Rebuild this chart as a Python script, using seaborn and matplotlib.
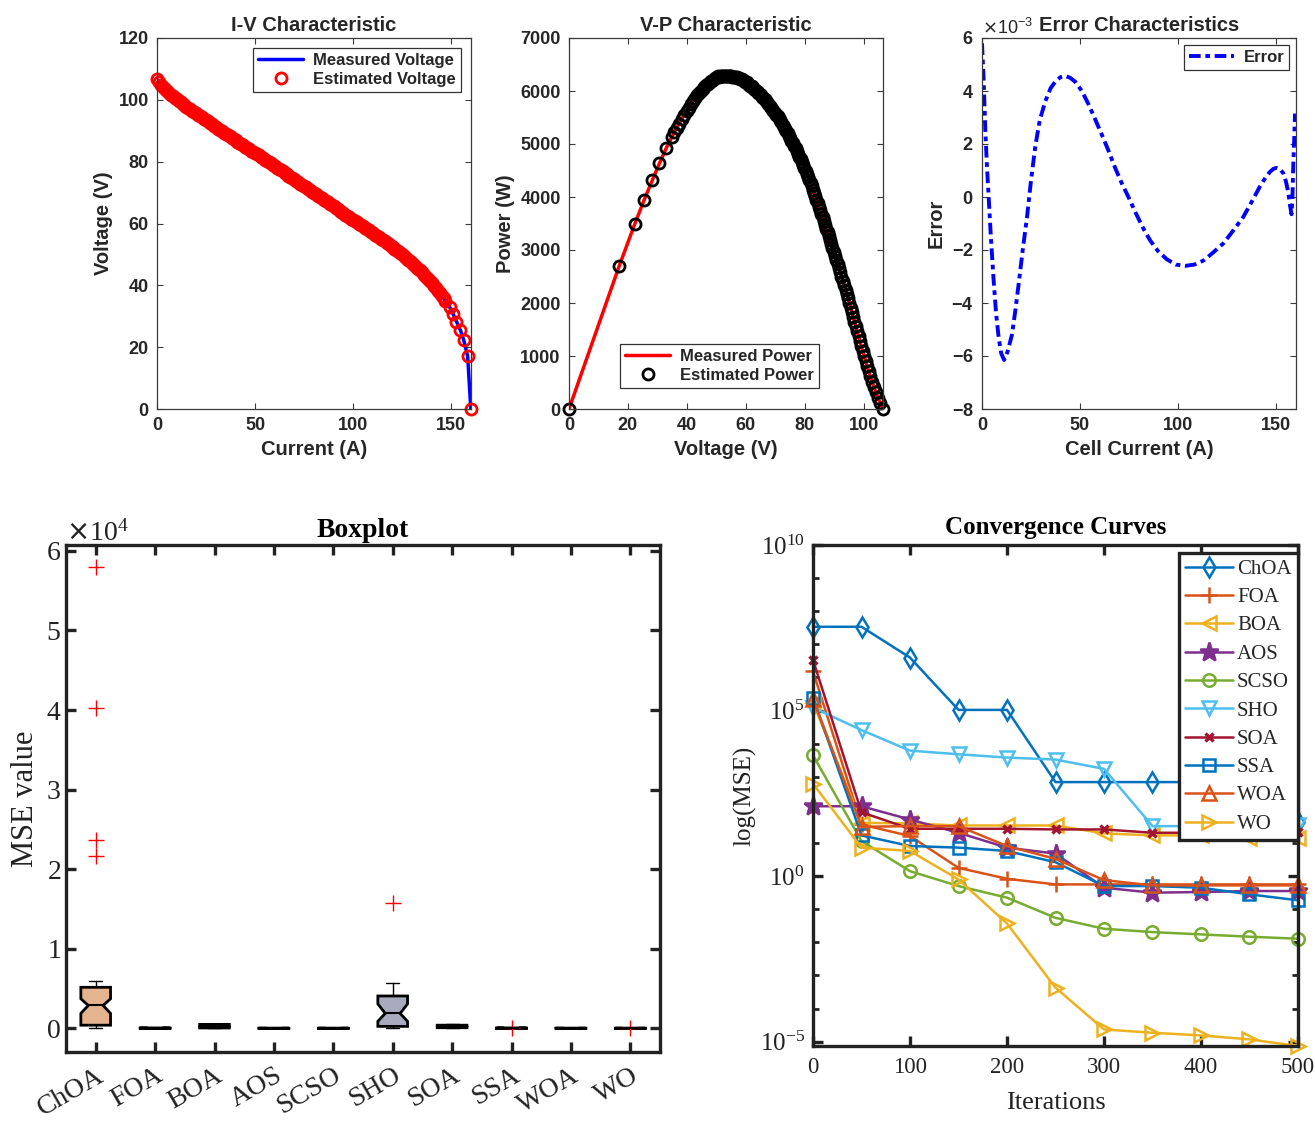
import numpy as np
import pandas as pd
import matplotlib
matplotlib.use("Agg")
import matplotlib.pyplot as plt
import seaborn as sns
from matplotlib.ticker import ScalarFormatter, FixedLocator, NullFormatter, LogFormatterSciNotation

# ---------------- data ----------------
current = [0, 1, 2, 3, 4, 5, 6, 7, 8, 9, 10, 11, 12, 13, 14, 15, 16, 17, 18, 19,
           20, 21, 22, 23, 24, 25, 26, 27, 28, 29, 30, 31, 32, 33, 34, 35, 36, 37, 38, 39,
           40, 41, 42, 43, 44, 45, 46, 47, 48, 49, 50, 51, 52, 53, 54, 55, 56, 57, 58, 59,
           60, 61, 62, 63, 64, 65, 66, 67, 68, 69, 70, 71, 72, 73, 74, 75, 76, 77, 78, 79,
           80, 81, 82, 83, 84, 85, 86, 87, 88, 89, 90, 91, 92, 93, 94, 95, 96, 97, 98, 99,
           100, 101, 102, 103, 104, 105, 106, 107, 108, 109, 110, 111, 112, 113, 114, 115, 116, 117, 118, 119,
           120, 121, 122, 123, 124, 125, 126, 127, 128, 129, 130, 131, 132, 133, 134, 135, 136, 137, 138, 139,
           140, 141, 142, 143, 144, 145, 146, 147,
           149.1, 150.9, 152.6, 154.6, 156.3, 158.3, 159.9]
voltage = [106.6, 105.7, 104.9, 104.2, 103.5, 102.9, 102.3, 101.7, 101.2, 100.7,
           100.2, 99.7, 99.2, 98.7, 98.3, 97.8, 97.4, 96.9, 96.5, 96.0,
           95.6, 95.2, 94.8, 94.3, 93.9, 93.4, 93.0, 92.5, 92.1, 91.6,
           91.2, 90.7, 90.3, 89.8, 89.4, 89.0, 88.6, 88.2, 87.8, 87.3,
           86.9, 86.5, 86.1, 85.7, 85.3, 84.8, 84.4, 84.0, 83.6, 83.2,
           82.8, 82.4, 82.0, 81.6, 81.2, 80.7, 80.3, 79.9, 79.5, 79.0,
           78.6, 78.1, 77.7, 77.3, 76.9, 76.4, 76.0, 75.5, 75.1, 74.7,
           74.3, 73.8, 73.4, 72.9, 72.5, 72.1, 71.7, 71.2, 70.8, 70.3,
           69.9, 69.4, 69.0, 68.5, 68.1, 67.7, 67.3, 66.8, 66.4, 65.9,
           65.5, 65.1, 64.7, 64.2, 63.8, 63.3, 62.9, 62.5, 62.1, 61.6,
           61.2, 60.8, 60.4, 59.9, 59.5, 59.1, 58.7, 58.2, 57.8, 57.3,
           56.9, 56.4, 56.0, 55.5, 55.1, 54.6, 54.2, 53.7, 53.3, 52.8,
           52.4, 51.9, 51.5, 51.0, 50.6, 50.1, 49.5, 48.9, 48.3, 47.8,
           47.2, 46.6, 46.0, 45.4, 44.8, 44.2, 43.5, 42.8, 42.1, 41.4,
           40.6, 39.9, 39.1, 38.3, 37.4, 36.6, 35.8, 34.9,
           33.0, 30.7, 28.3, 25.5, 22.3, 17.1, 0.0]
power = [i * v for i, v in zip(current, voltage)]

err_current = [0, 0.8, 1.7, 2.5, 3.4, 4.6, 5.9, 7.2, 8.5, 9.8, 11.3, 13.0, 15.3, 17.0, 18.7, 20.8,
               23.0, 25.0, 27.2, 29.5, 32.3, 35.0, 37.4, 40.0, 42.5, 45.0, 47.6, 51.0, 54.4, 58.0,
               61.5, 64.6, 68.0, 71.5, 74.8, 78.5, 82.5, 86.0, 90.0, 94.4, 99.0, 103.7, 108.5, 113.1,
               118.0, 123.3, 128.0, 133.5, 138.0, 142.0, 145.0, 147.1, 149.0, 150.5, 152.2, 153.9,
               155.2, 156.4, 157.3, 158.1, 158.6, 159.0, 159.5, 159.9]
err_milli = [5.8, 4.5, 2.5, 1.2, 0.0, -1.6, -3.1, -4.4, -5.3, -5.9, -6.15, -5.85, -5.2, -4.3, -3.3, -2.0,
             -0.75, 0.6, 1.9, 2.9, 3.6, 4.1, 4.35, 4.52, 4.57, 4.5, 4.35, 4.0, 3.5, 2.9,
             2.3, 1.75, 1.1, 0.5, 0.0, -0.6, -1.2, -1.65, -2.05, -2.35, -2.55, -2.6, -2.55, -2.4,
             -2.1, -1.75, -1.3, -0.75, -0.15, 0.4, 0.75, 0.95, 1.07, 1.1, 1.05, 0.9,
             0.6, 0.2, -0.3, -0.65, 0.0, 1.2, 2.2, 3.15]

algorithms = ["ChOA", "FOA", "BOA", "AOS", "SCSO", "SHO", "SOA", "SSA", "WOA", "WO"]
box_whislo = [0, 0, 0, 0, 0, 0, 0, 0, 0, 0]
box_q1 = [400, 10, 50, 5, 5, 250, 80, 10, 5, 5]
box_med = [2880, 20, 250, 10, 10, 1880, 200, 20, 10, 10]
box_q3 = [5160, 40, 500, 20, 20, 4070, 400, 40, 20, 20]
box_whishi = [5950, 60, 600, 30, 30, 5700, 550, 60, 30, 30]
box_cilo = [1880, 15, 150, 8, 8, 890, 140, 15, 8, 8]
box_cihi = [3720, 30, 350, 15, 15, 3070, 300, 30, 15, 15]
box_fliers = [[21600, 23700, 40200, 58000], [], [], [], [], [15800], [], [50], [], [0]]
box_colors = ["#E3B48D", "#9a9a9a", "#8a8a8a", "#9a9a9a", "#9a9a9a", "#A8AABD", "#8a8a8a", "#9a9a9a", "#9a9a9a", "#9a9a9a"]

iterations = [0, 50, 100, 150, 200, 250, 300, 350, 400, 450, 500]
log_choa = [7.53, 7.53, 6.60, 5.02, 5.02, 2.84, 2.84, 2.84, 2.84, 2.84, 1.62]
log_foa = [6.19, 1.56, 1.21, 0.25, -0.08, -0.25, -0.25, -0.25, -0.25, -0.25, -0.25]
log_boa = [5.24, 1.61, 1.59, 1.53, 1.53, 1.53, 1.29, 1.23, 1.23, 1.16, 1.16]
log_aos = [2.11, 2.11, 1.71, 1.31, 0.86, 0.68, -0.35, -0.50, -0.48, -0.45, -0.45]
log_scso = [3.65, 1.06, 0.15, -0.30, -0.65, -1.26, -1.59, -1.69, -1.76, -1.83, -1.89]
log_sho = [5.09, 4.41, 3.79, 3.68, 3.58, 3.52, 3.24, 1.51, 1.51, 1.51, 1.53]
log_soa = [6.53, 1.93, 1.43, 1.43, 1.43, 1.41, 1.41, 1.31, 1.31, 1.31, 1.33]
log_ssa = [5.39, 1.23, 0.91, 0.86, 0.76, 0.42, -0.30, -0.30, -0.35, -0.55, -0.73]
log_woa = [5.36, 1.49, 1.51, 1.51, 0.91, 0.52, -0.12, -0.28, -0.28, -0.28, -0.28]
log_wo = [2.79, 0.86, 0.76, -0.10, -1.43, -3.37, -4.63, -4.73, -4.81, -4.93, -5.13]

# ---------------- style ----------------
sns.set_theme(style="ticks")
plt.rcParams.update({
    "font.family": ["Liberation Sans", "DejaVu Sans"],
    "axes.unicode_minus": False,
    "axes.facecolor": "white",
    "figure.facecolor": "white",
})
SERIF = ["Liberation Serif", "DejaVu Serif"]
SANS = ["Liberation Sans", "DejaVu Sans"]
TXT = "#262626"

W, H = 1315, 1124
fig = plt.figure(figsize=(W / 100, H / 100), dpi=100)

def rect(l, t, r, b):
    return [l / W, 1 - b / H, (r - l) / W, (b - t) / H]

ax1 = fig.add_axes(rect(157, 38, 471, 409))
ax2 = fig.add_axes(rect(569, 38, 883, 409))
ax3 = fig.add_axes(rect(982, 38, 1296, 409))
ax4 = fig.add_axes(rect(66, 545, 660, 1052))
ax5 = fig.add_axes(rect(813, 545, 1298, 1046))


def style_top(ax):
    for s in ax.spines.values():
        s.set_linewidth(0.9)
        s.set_color("#3a3a3a")
        s.set_visible(True)
    ax.tick_params(which="both", direction="in", length=4, width=0.8, colors="#3a3a3a",
                   labelcolor=TXT, labelsize=13, top=True, right=True, pad=6)
    for l in ax.get_xticklabels() + ax.get_yticklabels():
        l.set_fontweight("bold")
        l.set_fontfamily(SANS)


def top_legend(ax, **kw):
    leg = ax.legend(prop={"family": SANS, "weight": "bold", "size": 12}, fancybox=False,
                    framealpha=1, edgecolor="#333333", handlelength=2.7, handletextpad=0.6,
                    borderpad=0.3, labelspacing=0.25, **kw)
    leg.get_frame().set_linewidth(0.9)
    for t in leg.get_texts():
        t.set_color(TXT)
    return leg

# ---- I-V ----
sns.lineplot(x=current, y=voltage, ax=ax1, color="blue", lw=2.5, sort=False, estimator=None,
             label="Measured Voltage")
sns.lineplot(x=current, y=voltage, ax=ax1, color="red", linestyle="none", marker="o", ms=8,
             mfc="none", mec="red", mew=2.0, sort=False, estimator=None, label="Estimated Voltage",
             clip_on=False)
ax1.set_xlim(0, 160)
ax1.set_ylim(0, 120)
ax1.set_xticks([0, 50, 100, 150])
ax1.set_yticks([0, 20, 40, 60, 80, 100, 120])
ax1.set_title("I-V Characteristic", fontweight="bold", fontsize=14.5, color=TXT, pad=5)
ax1.set_xlabel("Current (A)", fontweight="bold", fontsize=14.5, color=TXT, labelpad=4)
ax1.set_ylabel("Voltage (V)", fontweight="bold", fontsize=14.5, color=TXT, labelpad=4)
style_top(ax1)
top_legend(ax1, loc="upper right", borderaxespad=0.6)

# ---- V-P ----
sns.lineplot(x=voltage, y=power, ax=ax2, color="red", lw=2.5, sort=False, estimator=None,
             label="Measured Power")
sns.lineplot(x=voltage, y=power, ax=ax2, color="black", linestyle="none", marker="o", ms=8,
             mfc="none", mec="black", mew=2.0, sort=False, estimator=None, label="Estimated Power",
             clip_on=False)
ax2.set_xlim(0, 106.6)
ax2.set_ylim(0, 7000)
ax2.set_xticks([0, 20, 40, 60, 80, 100])
ax2.set_yticks([0, 1000, 2000, 3000, 4000, 5000, 6000, 7000])
ax2.set_title("V-P Characteristic", fontweight="bold", fontsize=14.5, color=TXT, pad=5)
ax2.set_xlabel("Voltage (V)", fontweight="bold", fontsize=14.5, color=TXT, labelpad=4)
ax2.set_ylabel("Power (W)", fontweight="bold", fontsize=14.5, color=TXT, labelpad=4)
style_top(ax2)
top_legend(ax2, loc="lower center", bbox_to_anchor=(0.48, 0.057), borderaxespad=0)

# ---- Error ----
err_vals = [e * 1e-3 for e in err_milli]
sns.lineplot(x=err_current, y=err_vals, ax=ax3, color="blue", lw=2.8,
             dashes=False, linestyle=(0, (3.0, 1.2, 1.2, 1.2)),
             sort=False, estimator=None, label="Error")
ax3.set_xlim(0, 160.4)
ax3.set_ylim(-8e-3, 6e-3)
ax3.set_xticks([0, 50, 100, 150])
ax3.set_yticks([-8e-3, -6e-3, -4e-3, -2e-3, 0, 2e-3, 4e-3, 6e-3])
fmt3 = ScalarFormatter(useMathText=True)
fmt3.set_powerlimits((0, 0))
ax3.yaxis.set_major_formatter(fmt3)
ax3.set_title("Error Characteristics", fontweight="bold", fontsize=14.5, color=TXT, pad=5)
ax3.set_xlabel("Cell Current (A)", fontweight="bold", fontsize=14.5, color=TXT, labelpad=4)
ax3.set_ylabel("Error", fontweight="bold", fontsize=14.5, color=TXT, labelpad=4)
style_top(ax3)
ot = ax3.yaxis.get_offset_text()
ot.set_fontsize(13)
ot.set_fontfamily(SANS)
ot.set_color(TXT)
top_legend(ax3, loc="upper right", borderaxespad=0.4)

# ---- Boxplot ----
stats = []
for i, name in enumerate(algorithms):
    stats.append(dict(label=name, whislo=box_whislo[i], q1=box_q1[i], med=box_med[i], q3=box_q3[i],
                      whishi=box_whishi[i], cilo=box_cilo[i], cihi=box_cihi[i], fliers=box_fliers[i]))
bp = ax4.bxp(stats, positions=list(range(1, 11)), widths=0.5, shownotches=True, patch_artist=True,
             capwidths=0.22,
             boxprops=dict(linewidth=2.0, edgecolor="black"),
             whiskerprops=dict(linewidth=1.0, color="black"),
             capprops=dict(linewidth=1.0, color="black"),
             medianprops=dict(linewidth=1.5, color="black"),
             flierprops=dict(marker="+", markeredgecolor="red", markersize=11, markeredgewidth=1.0,
                             linestyle="none"))
for patch, c in zip(bp["boxes"], box_colors):
    patch.set_facecolor(c)
ax4.set_xlim(0.5, 10.5)
ax4.set_ylim(-2970, 60740)
ax4.set_xticks(list(range(1, 11)))
ax4.set_xticklabels(algorithms, rotation=30, ha="right", rotation_mode="anchor")
ax4.set_yticks([0, 10000, 20000, 30000, 40000, 50000, 60000])
fmt4 = ScalarFormatter(useMathText=True)
fmt4.set_powerlimits((0, 0))
ax4.yaxis.set_major_formatter(fmt4)


def style_bottom(ax, size):
    for s in ax.spines.values():
        s.set_linewidth(2.4)
        s.set_color("#222222")
        s.set_visible(True)
    ax.tick_params(which="major", direction="in", length=7, width=2.4, colors="#222222",
                   labelcolor="#222222", labelsize=size, top=True, right=True,
                   labelfontfamily="Liberation Serif")
    ax.tick_params(which="minor", direction="in", length=4, width=2.0, colors="#222222",
                   top=True, right=True)

style_bottom(ax4, 20)
ax4.tick_params(axis="x", pad=8)
ot4 = ax4.yaxis.get_offset_text()
ot4.set_fontsize(20)
ot4.set_fontfamily(SERIF)
ax4.set_title("Boxplot", fontfamily=SERIF, fontweight="bold", fontsize=20, color="black", pad=6)
ax4.set_ylabel("MSE value", fontfamily=SERIF, fontsize=22, color="#222222", labelpad=4)

# ---- Convergence ----
ax5.set_yscale("log")
series = [
    ("ChOA", log_choa, "#0072BD", "d", 10, "none"),
    ("FOA", log_foa, "#D95319", "+", 11, "none"),
    ("BOA", log_boa, "#EDB120", "<", 10, "none"),
    ("AOS", log_aos, "#7E2F8E", "*", 14, "#7E2F8E"),
    ("SCSO", log_scso, "#77AC30", "o", 9, "none"),
    ("SHO", log_sho, "#4DBEEE", "v", 10, "none"),
    ("SOA", log_soa, "#A2142F", "x", 6, "none"),
    ("SSA", log_ssa, "#0072BD", "s", 8, "none"),
    ("WOA", log_woa, "#D95319", "^", 10, "none"),
    ("WO", log_wo, "#EDB120", ">", 10, "none"),
]
for name, logs, col, mk, ms, mfc in series:
    yv = [10.0 ** v for v in logs]
    sns.lineplot(x=iterations, y=yv, ax=ax5, color=col, lw=1.8, marker=mk, ms=ms, mfc=mfc,
                 mec=col, mew=1.8 if mk != "x" else 2.4, sort=False, estimator=None, label=name,
                 clip_on=False)
ax5.set_xlim(0, 500)
ax5.set_ylim(10 ** -5.13, 1e10)
ax5.set_xticks([0, 100, 200, 300, 400, 500])
ax5.yaxis.set_major_locator(FixedLocator([1e-5, 1e0, 1e5, 1e10]))
ax5.yaxis.set_major_formatter(LogFormatterSciNotation())
ax5.yaxis.set_minor_locator(FixedLocator([10.0 ** k for k in range(-5, 11)]))
ax5.yaxis.set_minor_formatter(NullFormatter())
style_bottom(ax5, 18)
ax5.tick_params(axis="x", pad=8, labelsize=16.5)
ax5.tick_params(axis="y", pad=6)
ax5.set_title("Convergence Curves", fontfamily=SERIF, fontweight="bold", fontsize=18, color="black", pad=8)
ax5.set_xlabel("Iterations", fontfamily=SERIF, fontsize=19, color="#222222", labelpad=10)
ax5.set_ylabel("log(MSE)", fontfamily=SERIF, fontsize=18, color="#222222", labelpad=2)
leg5 = ax5.legend(loc="upper right", bbox_to_anchor=(1.0, 1 - 8 / 501), borderaxespad=0,
                  prop={"family": SERIF, "size": 15}, fancybox=False, framealpha=1,
                  edgecolor="#222222", handlelength=2.3, handletextpad=0.2, borderpad=0.3,
                  labelspacing=0.42)
leg5.get_frame().set_linewidth(2.4)

fig.savefig("out.png", dpi=100)
